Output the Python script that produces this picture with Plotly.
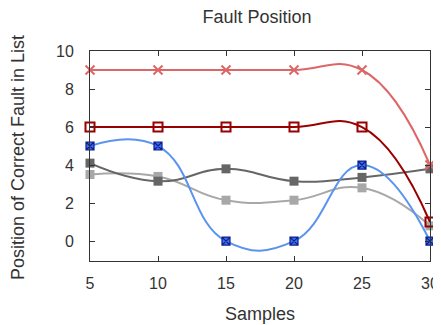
import plotly.graph_objects as go

samples = [5, 10, 15, 20, 25, 30]
red_x = [9, 9, 9, 9, 9, 4]
darkred_sq = [6, 6, 6, 6, 6, 1]
blue_circ = [5, 5, 0, 0, 4, 0]
dgray_sq = [4.1, 3.15, 3.8, 3.15, 3.35, 3.8]
lgray_sq = [3.5, 3.4, 2.15, 2.15, 2.8, 0.8]

fig = go.Figure()

def add(y, color, symbol, msize, mcolor, mline_color, mline_w, lw=2):
    fig.add_trace(go.Scatter(
        x=samples, y=y, mode="lines+markers",
        line=dict(color=color, width=lw, shape="spline", smoothing=1.3),
        marker=dict(symbol=symbol, size=msize, color=mcolor,
                    line=dict(color=mline_color, width=mline_w)),
        showlegend=False, cliponaxis=False))

add(lgray_sq, "#a8a8a8", "square", 9, "#a8a8a8", "#a8a8a8", 0)
add(dgray_sq, "#666666", "square", 9, "#666666", "#666666", 0)
add(blue_circ, "#5b94ee", "square-x", 8, "#3d6ff0", "#0c1e8c", 1.2)
add(darkred_sq, "#990000", "square-open", 9, "#990000", "#990000", 2)
add(red_x, "#dd6666", "x-thin-open", 9, "#dd6666", "#dd6666", 2)

txt = "#333333"
OFF = 8  # default page body margin
W, H = 441 - OFF, 325 - OFF
L, R, T, B = 90 - OFF, 11, 51 - OFF, 64
pw, ph = W - L - R, H - T - B

def px_x(p):  # page pixel -> paper x
    return (p - OFF - L) / pw

def px_y(p):  # page pixel -> paper y
    return (H - B - (p - OFF)) / ph

fig.update_layout(
    width=W, height=H,
    margin=dict(l=L, r=R, t=T, b=B, autoexpand=False),
    paper_bgcolor="white", plot_bgcolor="white",
    font=dict(family="Liberation Sans, Arial, sans-serif", size=16, color=txt),
    title=dict(text="Fault Position", xref="container", x=(257 - OFF) / W, xanchor="center",
               yref="container", y=1 - (17 - OFF) / H, yanchor="middle",
               font=dict(size=18, color=txt)),
    annotations=[
        dict(text="Samples", xref="paper", yref="paper", x=0.5, y=px_y(314),
             xanchor="center", yanchor="middle", showarrow=False, font=dict(size=18, color=txt)),
        dict(text="Position of Correct Fault in List", xref="paper", yref="paper",
             x=px_x(18), y=px_y(158), xanchor="center", yanchor="middle", textangle=-90,
             showarrow=False, font=dict(size=18, color=txt)),
    ],
)
fig.update_xaxes(
    range=[5, 30], tickvals=[5, 10, 15, 20, 25, 30],
    ticks="inside", ticklen=5, tickcolor="#333333", ticklabelstandoff=8,
    showline=True, linecolor="#333333", linewidth=1, mirror="ticks",
    showgrid=False, zeroline=False, automargin=False,
)
fig.update_yaxes(
    range=[-1.05, 10], tickvals=[0, 2, 4, 6, 8, 10],
    ticks="inside", ticklen=5, tickcolor="#333333", ticklabelstandoff=12,
    showline=True, linecolor="#333333", linewidth=1, mirror="ticks",
    showgrid=False, zeroline=False, automargin=False,
)

fig.write_html("out.html")
